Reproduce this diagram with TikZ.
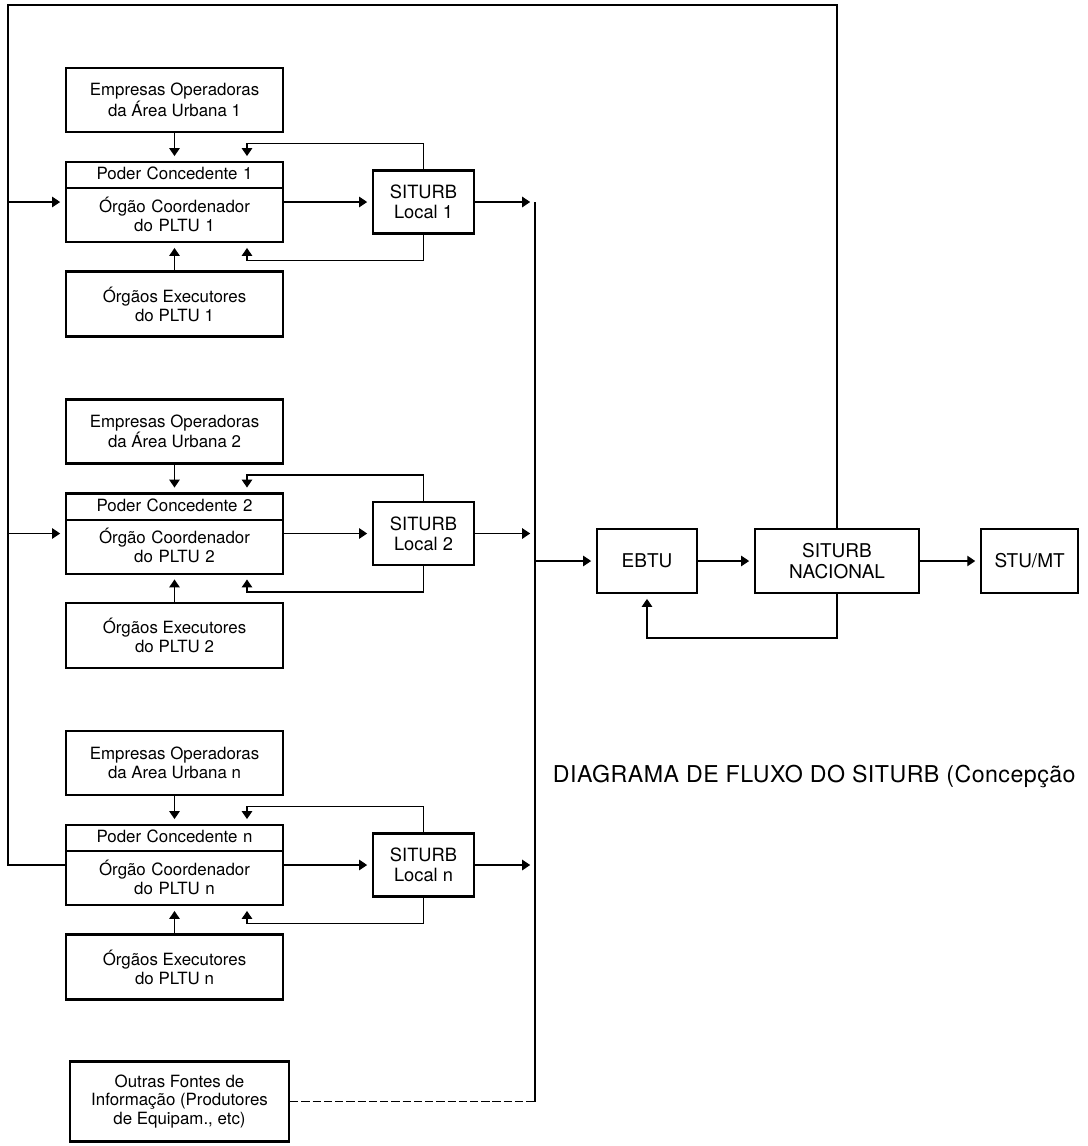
\documentclass[tikz,border=0pt]{standalone}
\usepackage{fontspec}
\setmainfont{TeX Gyre Heros}
\newfontfamily\capfont[LetterSpace=2]{TeX Gyre Heros}
\usetikzlibrary{arrows.meta,shapes.multipart}

\begin{document}
\begin{tikzpicture}[node distance=2.55cm,
  box/.style={draw, line width=1.5pt, minimum width=5.425cm, minimum height=1.6cm, align=center, font=\fontsize{12}{13.5}\selectfont},
  pcbox/.style={draw, line width=1.5pt, rectangle split, rectangle split parts=2, text width=5.425cm, inner xsep=0pt, inner ysep=0pt, align=center, font=\fontsize{12}{13.5}\selectfont},
  sitbox/.style={draw, line width=1.5pt, minimum width=2.525cm, minimum height=1.575cm, align=center, font=\fontsize{13}{14}\selectfont},
  natbox/.style={draw, line width=1.5pt, minimum height=1.6cm, align=center, font=\fontsize{13.5}{15}\selectfont},
  line/.style={line width=1pt},
  arr/.style={line width=1pt, -{Triangle[length=0.2cm,width=0.26cm]}, shorten >=0.12cm}]
\useasboundingbox (0,0) rectangle (27.2,-28.65);

% area 1
\node[box] (emp1) at (4.3625,-2.5) {Empresas Operadoras\\da Área Urbana 1};
\node[pcbox, below of=emp1] (pc1) {\rule[-5.3pt]{0pt}{17.07pt}Poder Concedente 1\nodepart{two}\rule{0pt}{16.3pt}Órgão Coordenador\\do PLTU 1\rule[-7.1pt]{0pt}{0pt}};
\node[box, below of=pc1, minimum height=1.625cm] (exe1) {Órgãos Executores\\do PLTU 1};
\node[sitbox, right of=pc1, xshift=3.675cm] (sl1) {SITURB\\Local 1};

% area 2
\node[box, below of=exe1, yshift=-0.6375cm] (emp2) {Empresas Operadoras\\da Área Urbana 2};
\node[pcbox, below of=emp2] (pc2) {\rule[-5.3pt]{0pt}{17.07pt}Poder Concedente 2\nodepart{two}\rule{0pt}{16.3pt}Órgão Coordenador\\do PLTU 2\rule[-7.1pt]{0pt}{0pt}};
\node[box, below of=pc2, minimum height=1.625cm] (exe2) {Órgãos Executores\\do PLTU 2};
\node[sitbox, right of=pc2, xshift=3.675cm] (sl2) {SITURB\\Local 2};

% area n
\node[box, below of=exe2, yshift=-0.6375cm] (empn) {Empresas Operadoras\\da Area Urbana n};
\node[pcbox, below of=empn] (pcn) {\rule[-5.3pt]{0pt}{17.07pt}Poder Concedente n\nodepart{two}\rule{0pt}{16.3pt}Órgão Coordenador\\do PLTU n\rule[-7.1pt]{0pt}{0pt}};
\node[box, below of=pcn, minimum height=1.625cm] (exen) {Órgãos Executores\\do PLTU n};
\node[sitbox, right of=pcn, xshift=3.675cm] (sln) {SITURB\\Local n};

\node[box, below of=exen, yshift=-0.8125cm, xshift=0.125cm, minimum width=5.475cm, minimum height=2cm] (outras) {Outras Fontes de\\Informação (Produtores\\de Equipam., etc)};

% national level
\node[natbox, minimum width=2.5cm] (ebtu) at (16.175,-14.025) {EBTU};
\node[natbox, minimum width=4.1cm, right of=ebtu, xshift=2.2cm] (nacional) {SITURB\\NACIONAL};
\node[natbox, minimum width=2.425cm, right of=nacional, xshift=2.265cm] (stumt) {STU/MT};

\node[anchor=west, font=\capfont\fontsize{16.5}{18}\selectfont] (caption) at (13.7,-19.4) {DIAGRAMA DE FLUXO DO SITURB (Concepção};

\coordinate (topleft) at (0.2,-0.125);
\coordinate (bus) at (13.375,0);

\draw[arr] (emp1.south) -- (pc1.north);
\draw[arr] (exe1.north) -- (pc1.south);
\draw[arr] (pc1.east) -- (sl1.west);
\draw[arr] (sl1.north) -- ++(0,0.65) -| ([xshift=1.8125cm]pc1.north);
\draw[arr] (sl1.south) -- ++(0,-0.65) -| ([xshift=1.8125cm]pc1.south);
\draw[arr] (sl1.east) -- (sl1.east -| bus);

\draw[arr] (emp2.south) -- (pc2.north);
\draw[arr] (exe2.north) -- (pc2.south);
\draw[arr] (pc2.east) -- (sl2.west);
\draw[arr] (sl2.north) -- ++(0,0.65) -| ([xshift=1.8125cm]pc2.north);
\draw[arr] (sl2.south) -- ++(0,-0.65) -| ([xshift=1.8125cm]pc2.south);
\draw[arr] (sl2.east) -- (sl2.east -| bus);

\draw[arr] (empn.south) -- (pcn.north);
\draw[arr] (exen.north) -- (pcn.south);
\draw[arr] (pcn.east) -- (sln.west);
\draw[arr] (sln.north) -- ++(0,0.65) -| ([xshift=1.8125cm]pcn.north);
\draw[arr] (sln.south) -- ++(0,-0.65) -| ([xshift=1.8125cm]pcn.south);
\draw[arr] (sln.east) -- (sln.east -| bus);

\draw[line] (sl1.east -| bus) -- (outras.east -| bus);
\draw[line, dash pattern=on 6pt off 2pt] (outras.east) -- (outras.east -| bus);
\draw[arr] (ebtu.west -| bus) -- (ebtu.west);
\draw[arr] (ebtu.east) -- (nacional.west);
\draw[arr] (nacional.east) -- (stumt.west);
\draw[arr] (nacional.south) -- ++(0,-1.1) -| (ebtu.south);

\draw[line] (nacional.north) |- (topleft) |- (pcn.west);
\draw[arr] (pc1.west -| topleft) -- (pc1.west);
\draw[arr] (pc2.west -| topleft) -- (pc2.west);
\end{tikzpicture}
\end{document}
